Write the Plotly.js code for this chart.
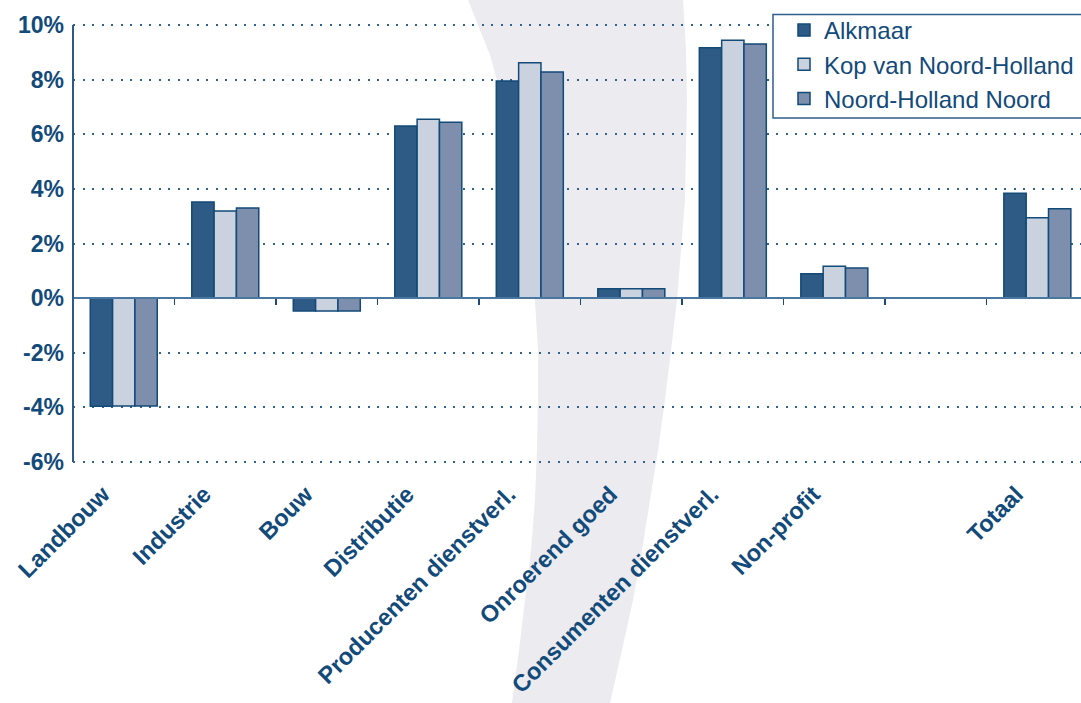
<!DOCTYPE html>
<html>
<head>
<meta charset="utf-8">
<script src="https://cdn.plot.ly/plotly-3.0.1.min.js"></script>
<style>html,body{margin:0;padding:0;background:#fff;}#chart{width:1081px;height:703px;}</style>
</head>
<body>
<div id="chart"></div>
<script>
const categories = ['Landbouw','Industrie','Bouw','Distributie','Producenten dienstverl.','Onroerend goed','Consumenten dienstverl.','Non-profit',' ','Totaal'];
const seriesNames = ['Alkmaar','Kop van Noord-Holland','Noord-Holland Noord'];
const alkmaar = [-3.96, 3.52, -0.47, 6.30, 7.95, 0.34, 9.17, 0.89, null, 3.84];
const kopVanNoordHolland = [-3.95, 3.19, -0.47, 6.55, 8.62, 0.34, 9.44, 1.17, null, 2.94];
const noordHollandNoord = [-3.95, 3.30, -0.47, 6.44, 8.28, 0.34, 9.30, 1.10, null, 3.27];
const yTicks = [-6, -4, -2, 0, 2, 4, 6, 8, 10];
const yTickLabels = ['-6%', '-4%', '-2%', '0%', '2%', '4%', '6%', '8%', '10%'];

const fills = ['#2e5b85', '#cad1df', '#7e8fae'];
const outline = '#124a78';
const textColor = '#124a7a';

const values = [alkmaar, kopVanNoordHolland, noordHollandNoord];
const traces = values.map((v, i) => ({
  type: 'bar', name: seriesNames[i], x: categories, y: v,
  marker: {color: fills[i], line: {color: outline, width: 1.5}},
  hoverinfo: 'x+y+name'
}));
// helper trace so the zero-line axis carries the same categories
traces.push({type: 'scatter', mode: 'markers', x: categories, y: categories.map(() => null),
  xaxis: 'x2', yaxis: 'y', showlegend: false, hoverinfo: 'skip'});

// plot-area geometry in pixels (for converting decorations to paper coords)
const L = 73, W = 1008, T = 22, B = 465, H = B - T;
const yMin = -6.11, yMax = 10.11;
const px2paper = (X, Y) => [((X - L) / W), ((B - Y) / H)];

// decorative background swoosh
const swooshPx = [[466,-8],[468,0],[478,25],[490,55],[497,80],[508,120],[517,160],[524,200],[530,250],[535,300],[538,350],[538,400],[537,450],[535,500],[531,550],[525,600],[519,650],[512,703],[511,712],
  [608,712],[610,703],[622,650],[633,600],[642,550],[650,500],[658,450],[665,400],[671,350],[677,300],[681,250],[685,200],[686,150],[687,100],[686,50],[683,0],[683,-8]];
const swooshPath = swooshPx.map((p, i) => { const q = px2paper(p[0], p[1]); return (i ? 'L' : 'M') + q[0].toFixed(4) + ',' + q[1].toFixed(4); }).join(' ') + ' Z';

// legend frame
const boxTL = px2paper(773, 14.5), boxBR = px2paper(1092, 118);

const layout = {
  width: 1081, height: 703,
  margin: {l: L, r: 0, t: T, b: 703 - B, pad: 0, autoexpand: false},
  paper_bgcolor: '#ffffff', plot_bgcolor: 'rgba(0,0,0,0)',
  barmode: 'group', bargap: 0.34, bargroupgap: 0,
  font: {family: 'Liberation Sans, Arial, sans-serif', color: textColor},
  showlegend: true,
  xaxis: {type: 'category', categoryorder: 'array', categoryarray: categories, range: [-0.5, 9.43],
    tickangle: -45, tickfont: {size: 23.5, weight: 700, color: textColor}, ticklabelstandoff: 10, ticklabelshift: -21,
    showgrid: false, showline: false, zeroline: false, ticks: '', fixedrange: true},
  xaxis2: {type: 'category', categoryorder: 'array', categoryarray: categories, range: [-0.5, 9.43],
    overlaying: 'x', anchor: 'free', position: (0 - yMin) / (yMax - yMin), side: 'bottom',
    tickson: 'boundaries', ticks: 'outside', ticklen: 6, tickwidth: 1.5, tickcolor: '#1b4a78',
    showticklabels: false, showline: true, linecolor: '#4a77a0', linewidth: 2, showgrid: false, zeroline: false, fixedrange: true},
  yaxis: {range: [yMin, yMax], tickvals: yTicks, ticktext: yTickLabels, ticklabelstandoff: 8,
    tickfont: {size: 23, weight: 700, color: textColor},
    showgrid: true, gridcolor: '#2f6391', gridwidth: 2, griddash: '2px,7.5px',
    zeroline: false, showline: false, ticks: '', fixedrange: true},
  legend: {x: (784 - L) / W, y: (B - 8) / H, xanchor: 'left', yanchor: 'top',
    bgcolor: 'rgba(0,0,0,0)', borderwidth: 0,
    font: {size: 24, color: textColor}, traceorder: 'normal'},
  shapes: [
    {type: 'path', xref: 'paper', yref: 'paper', path: swooshPath, fillcolor: '#ebebf0', line: {width: 0}, layer: 'below'},
    // vertical axis line spanning the tick range
    {type: 'line', xref: 'paper', yref: 'y', x0: 0, x1: 0, y0: yTicks[0], y1: yTicks[yTicks.length - 1],
      line: {color: '#2d5a84', width: 2}, layer: 'above'},
    {type: 'rect', xref: 'paper', yref: 'paper', x0: boxTL[0], y0: boxBR[1], x1: boxBR[0], y1: boxTL[1],
      fillcolor: '#ffffff', line: {color: '#2d5f8c', width: 1.5}, layer: 'above'}
  ]
};

Plotly.newPlot('chart', traces, layout, {displayModeBar: false, staticPlot: true});
</script>
</body>
</html>
